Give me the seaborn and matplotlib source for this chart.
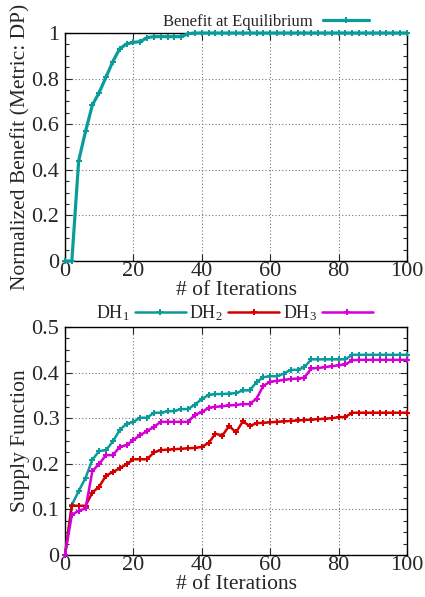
import numpy as np
import pandas as pd
import matplotlib
matplotlib.use("Agg")
import matplotlib.pyplot as plt
import seaborn as sns
from matplotlib.ticker import MultipleLocator

iterations = list(range(0, 101, 2))

benefit = [0.0, 0.0, 0.44, 0.568, 0.684, 0.739, 0.807, 0.875, 0.931, 0.952,
           0.959, 0.962, 0.980, 0.984, 0.984, 0.984, 0.984, 0.984, 0.997] + [1.0] * 32

dh1 = [0.0, 0.110, 0.140, 0.169, 0.209, 0.228, 0.230, 0.249, 0.274, 0.288,
       0.292, 0.301, 0.301, 0.312, 0.312, 0.315, 0.316, 0.320, 0.320, 0.330,
       0.342, 0.351, 0.353, 0.353, 0.354, 0.355, 0.361, 0.361, 0.379, 0.390,
       0.392, 0.392, 0.398, 0.406, 0.406, 0.412, 0.429, 0.429, 0.429, 0.429,
       0.429, 0.429, 0.439, 0.439, 0.439, 0.439, 0.439, 0.439, 0.439, 0.439, 0.439]

dh2 = [0.0, 0.108, 0.108, 0.108, 0.137, 0.150, 0.174, 0.182, 0.190, 0.199,
       0.210, 0.210, 0.210, 0.225, 0.230, 0.231, 0.232, 0.233, 0.234, 0.235,
       0.237, 0.246, 0.266, 0.262, 0.283, 0.269, 0.293, 0.283, 0.289, 0.290,
       0.291, 0.292, 0.293, 0.294, 0.295, 0.296, 0.297, 0.298, 0.299, 0.300,
       0.302, 0.303, 0.312, 0.312, 0.312, 0.312, 0.312, 0.312, 0.312, 0.312, 0.312]

dh3 = [0.0, 0.088, 0.097, 0.102, 0.184, 0.200, 0.219, 0.219, 0.237, 0.241,
       0.252, 0.263, 0.272, 0.281, 0.292, 0.292, 0.292, 0.292, 0.292, 0.308,
       0.313, 0.323, 0.325, 0.326, 0.328, 0.329, 0.331, 0.331, 0.343, 0.371,
       0.380, 0.382, 0.384, 0.386, 0.387, 0.389, 0.409, 0.410, 0.412, 0.414,
       0.416, 0.418, 0.427, 0.428, 0.428, 0.428, 0.428, 0.428, 0.428, 0.428, 0.428]

series_labels = [r"DH$_1$", r"DH$_2$", r"DH$_3$"]
benefit_label = "Benefit at Equilibrium"
colors = ["#0a9b9b", "#d40000", "#d600d6"]

sns.set_theme(style="ticks")
plt.rcParams["font.family"] = ["Liberation Serif", "DejaVu Serif"]
plt.rcParams["mathtext.fontset"] = "custom"
plt.rcParams["mathtext.rm"] = "Liberation Serif"
plt.rcParams["mathtext.it"] = "Liberation Serif:italic"

fig = plt.figure(figsize=(4.25, 5.97), dpi=100)
ax1 = fig.add_axes([65 / 425, 1 - 261 / 597, 342 / 425, 228 / 597])
ax2 = fig.add_axes([65 / 425, 1 - 555 / 597, 342 / 425, 228 / 597])

df1 = pd.DataFrame({"it": iterations, "val": benefit, "series": benefit_label})
sns.lineplot(data=df1, x="it", y="val", hue="series", palette=[colors[0]], ax=ax1,
             marker="P", markersize=4.5, markeredgewidth=0, linewidth=2.3,
             clip_on=False, zorder=5)

df2 = pd.concat([pd.DataFrame({"it": iterations, "val": v, "series": lab})
                 for v, lab in zip([dh1, dh2, dh3], series_labels)])
sns.lineplot(data=df2, x="it", y="val", hue="series", palette=colors, ax=ax2,
             marker="P", markersize=4.5, markeredgewidth=0, linewidth=1.8,
             clip_on=False, zorder=5)

def style(ax, ymax, ymajor, yminor, ylabel):
    ax.set_xlim(0, 100)
    ax.set_ylim(0, ymax)
    ax.xaxis.set_major_locator(MultipleLocator(20))
    ax.yaxis.set_major_locator(MultipleLocator(ymajor))
    ax.yaxis.set_minor_locator(MultipleLocator(yminor))
    ax.tick_params(which="both", direction="in", top=True, right=True,
                   labelsize=16, width=0.8)
    ax.tick_params(axis="x", pad=1)
    ax.tick_params(axis="y", pad=4)
    ax.tick_params(which="major", length=5)
    ax.tick_params(which="minor", length=3)
    ax.grid(True, which="major", linestyle=(0, (1, 2)), color="#777777", linewidth=0.8)
    for s in ax.spines.values():
        s.set_linewidth(1.0)
        s.set_color("black")
    ax.set_xlabel("# of Iterations", fontsize=15.5, labelpad=-0.5)
    ax.set_ylabel(ylabel, fontsize=15.5, labelpad=1)
    ax.yaxis.set_major_formatter(matplotlib.ticker.FuncFormatter(
        lambda v, p: "0" if abs(v) < 1e-9 else ("%g" % v)))

style(ax1, 1.0, 0.2, 0.05, "Normalized Benefit (Metric: DP)")
style(ax2, 0.5, 0.1, 0.025, "Supply Function")

ax1.legend(loc="lower right", bbox_to_anchor=(0.895, 1.005), frameon=False,
           markerfirst=False, fontsize=12, handlelength=2.8, handletextpad=0.6,
           borderaxespad=0, borderpad=0.1)
ax2.legend(loc="lower center", bbox_to_anchor=(0.495, 1.01), frameon=False,
           markerfirst=False, fontsize=13, ncol=3, handlelength=2.8,
           columnspacing=0.2, handletextpad=0.3, borderaxespad=0, borderpad=0.1)

fig.savefig("out.png", dpi=100)
